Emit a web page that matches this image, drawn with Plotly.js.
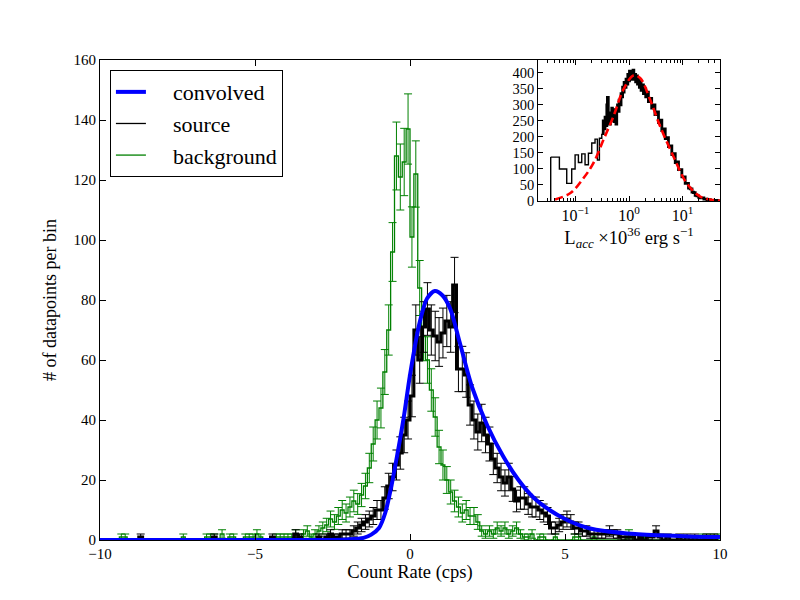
<!DOCTYPE html>
<html>
<head>
<meta charset="utf-8">
<script src="https://cdn.plot.ly/plotly-3.0.1.min.js"></script>
<style>html,body{margin:0;padding:0;background:#fff;}#chart{width:800px;height:600px;}</style>
</head>
<body>
<div id="chart"></div>
<script>
// ---------- main panel data: histograms, bin width 0.125 cps from -10 to 10 ----------
const binStart = -10;
const binWidth = 0.125;

// background (green) counts per bin, 8 bins per unit
const backgroundCounts = [
  0,0,0,0,0,1,1,0,
  0,0,0,0,0,0,0,0,
  0,0,0,0,0,1,0,0,
  0,0,0,1,1,1,0,2,
  0,1,1,0,0,1,1,1,
  2,1,0,0,0,1,1,1,
  1,1,2,1,2,3,1,2,
  3,4,5,7,6,8,10,9,
  11,13,12,15,18,24,32,40,
  44,56,70,96,128,121,126,137,
  101,122,84,68,60,50,41,31,
  25,20,16,13,11,9,10,8,
  8,6,3,2,3,2,4,3,
  4,2,3,4,2,1,1,2,
  0,1,1,0,0,1,0,0,
  0,0,1,1,0,0,0,1,
  0,0,0,0,0,0,0,0,
  2,1,0,1,1,0,0,0,
  0,0,0,0,0,0,0,0,
  0,0,0,1,0,1,0,1
];

// source (black) counts per bin
const sourceCounts = [
  0,0,0,0,0,0,0,0,
  0,0,1,0,0,0,0,0,
  0,0,0,0,0,0,0,0,
  0,0,0,0,0,1,0,0,
  0,0,0,0,0,0,0,0,
  0,0,0,0,1,0,0,0,
  0,0,2,1,0,0,0,0,
  1,0,1,2,1,1,2,2,
  2,3,4,5,6,7,8,10,
  10,14,18,21,25,29,35,40,
  48,70,60,71,77,70,68,66,
  69,73,71,85,57,57,55,45,
  40,36,39,35,32,27,24,21,
  19,21,17,13,14,14,12,11,
  11,10,9,8,4,4,5,6,
  7,6,4,4,3,3,2,2,
  2,2,2,3,2,2,1,1,
  1,1,0,1,0,1,1,3,
  1,0,1,0,0,1,0,1,
  0,1,0,0,1,0,1,0
];

// convolved model curve
const convX = [-10,-3,-2,-1.5,-1.25,-1.0,-0.8,-0.6,-0.4,-0.2,0,0.3,0.55,0.8,1.05,1.3,1.6,2.0,2.5,3.0,3.5,4.0,4.5,5.0,5.5,6.0,7.0,8.0,9.0,10.0];
const convY = [0,0,0.2,0.7,1.8,4,9,18,29,41,55,72,80.5,83,81.5,77,66,51,38,28,20,14,10,7,4.8,3.4,2.2,1.6,1.2,1.0];

const mainXTicks = [-10,-5,0,5,10];
const legendNames = ['convolved','source','background'];

// ---------- inset data: L_acc histogram (step edges) and model ----------
const insetEdgesLow = [0.0345,0.0501,0.0687,0.0851,0.0984,0.1135,0.131,0.151,0.1745,0.2015,0.232,0.257,0.280,0.310];
const insetCountsLow = [137,100,55,100,144,120,147,113,149,181,193,128,196,210];

const insetEdgesHigh = [0.310,0.33,0.345,0.357,0.37,0.385,0.395,0.41,0.431,0.45,0.465,0.476,0.49,0.512,0.53,0.55,0.57,0.59,0.61,0.635,0.653,0.68,0.71,0.732,0.76,0.79,0.81,0.85,0.88,0.91,0.95,0.99,1.02,1.06,1.10,1.14,1.19,1.23,1.28,1.33,1.38,1.44,1.5,1.56,1.61,1.68,1.76,1.86,1.95,2.05,2.15,2.3,2.48,2.65,2.86,3.05,3.3,3.55,3.81,4.1,4.4,4.75,5.08,5.45,5.86,6.3,6.77,7.3,7.82,8.4,9.02,9.7,10.4,11.2,12.0,12.9,13.9,15,16,17.2,18.5,20,21.3,25,28.5,33,37.9,45,50.5];
const insetCountsHigh = [210,250,225,262,235,300,323,255,240,275,250,290,255,285,248,270,240,285,300,280,315,300,335,325,355,340,370,355,380,365,395,375,405,385,400,380,408,385,395,372,390,365,380,355,372,345,362,335,350,325,340,310,320,290,300,270,278,245,252,220,225,195,198,170,172,145,148,120,122,98,98,75,75,55,55,40,38,28,26,18,16,11,10,6,4,2,1.5,0.5,0];

const modelL = [0.0416,0.0793,0.1406,0.216,0.333,0.512,0.787,1.21,1.61,2.48,3.81,6.76,12.0,21.3,37.8,50];
const modelN = [5,24,71,118,191,264,348,392,384,316,233,139,55,14,3,1];

const insetXTicks = [0.1,1,10];
const insetXTickText = ['10<sup>\u22121</sup>','10<sup>0</sup>','10<sup>1</sup>'];

// ---------- build ----------
const binCenters = backgroundCounts.map((_, i) => binStart + binWidth * (i + 0.5));
const poisson = arr => arr.map(v => v > 0 ? Math.sqrt(v) : NaN);

const FONT = 'Liberation Serif, Times New Roman, serif';
const GREEN = '#008000';
const PAD = '\u2002\u2002';

const minorLog = [];
[0.01,0.1,1,10].forEach(d => { for (let m = 2; m <= 9; m++) { const v = m*d; if (v >= 0.02 && v <= 50) minorLog.push(v); } });

const traces = [
  {x: binCenters, y: backgroundCounts, mode: 'lines', line: {shape: 'hvh', color: GREEN, width: 1.3},
   error_y: {type: 'data', array: poisson(backgroundCounts), visible: true, color: GREEN, thickness: 1, width: 4},
   showlegend: false, xaxis: 'x', yaxis: 'y', hoverinfo: 'skip'},
  {x: binCenters, y: sourceCounts, mode: 'lines', line: {shape: 'hvh', color: '#000', width: 3},
   error_y: {type: 'data', array: poisson(sourceCounts), visible: true, color: '#000', thickness: 1, width: 4},
   showlegend: false, xaxis: 'x', yaxis: 'y', hoverinfo: 'skip'},
  {x: convX, y: convY, mode: 'lines', line: {shape: 'spline', smoothing: 0.8, color: '#0000ff', width: 4},
   showlegend: false, xaxis: 'x', yaxis: 'y', hoverinfo: 'skip'},
  // legend entries
  {x: [null], y: [null], mode: 'lines', name: PAD + legendNames[0], line: {color: '#0000ff', width: 4}, xaxis: 'x', yaxis: 'y'},
  {x: [null], y: [null], mode: 'lines', name: PAD + legendNames[1], line: {color: '#000', width: 1.3}, xaxis: 'x', yaxis: 'y'},
  {x: [null], y: [null], mode: 'lines', name: PAD + legendNames[2], line: {color: GREEN, width: 1.3}, xaxis: 'x', yaxis: 'y'},
  // inset
  {x: insetEdgesLow, y: insetCountsLow, mode: 'lines',
   line: {shape: 'hv', color: '#000', width: 1.4}, showlegend: false, xaxis: 'x2', yaxis: 'y2', hoverinfo: 'skip'},
  {x: [insetEdgesLow[0], insetEdgesLow[0]], y: [0, insetCountsLow[0]], mode: 'lines',
   line: {color: '#000', width: 1.4}, showlegend: false, xaxis: 'x2', yaxis: 'y2', hoverinfo: 'skip'},
  {x: insetEdgesHigh, y: insetCountsHigh, mode: 'lines',
   line: {shape: 'hv', color: '#000', width: 2.8}, showlegend: false, xaxis: 'x2', yaxis: 'y2', hoverinfo: 'skip'},
  {x: modelL, y: modelN, mode: 'lines', line: {shape: 'spline', smoothing: 1, color: '#ff0000', width: 2.6, dash: '8px,4px'},
   showlegend: false, xaxis: 'x2', yaxis: 'y2', hoverinfo: 'skip'}
];

const axisCommon = {
  showline: true, linecolor: '#000', linewidth: 1, mirror: 'ticks',
  ticks: 'inside', ticklen: 6, tickwidth: 1, tickcolor: '#000',
  showgrid: false, zeroline: false,
  tickfont: {family: FONT, size: 15, color: '#000'}
};
const insetTickFont = {family: FONT, size: 14.5, color: '#000'};

const layout = {
  width: 800, height: 600,
  margin: {l: 100, r: 80, t: 60, b: 60, pad: 0},
  paper_bgcolor: '#fff', plot_bgcolor: '#fff',
  font: {family: FONT, color: '#000'},
  xaxis: Object.assign({}, axisCommon, {
    domain: [0, 1], range: [-10, 10], tickmode: 'array', tickvals: mainXTicks, anchor: 'y',
    title: {text: 'Count Rate (cps)', font: {family: FONT, size: 18.5, color: '#000'}, standoff: 4}
  }),
  yaxis: Object.assign({}, axisCommon, {
    domain: [0, 1], range: [0, 160], dtick: 20, tick0: 0, anchor: 'x',
    title: {text: '# of datapoints per bin', font: {family: FONT, size: 18, color: '#000'}, standoff: 12}
  }),
  xaxis2: Object.assign({}, axisCommon, {
    domain: [0.7065, 1], type: 'log', range: [Math.log10(0.02), Math.log10(50)], anchor: 'y2',
    tickmode: 'array', tickvals: insetXTicks, ticktext: insetXTickText, ticklen: 5,
    tickfont: {family: FONT, size: 16, color: '#000'},
    minor: {ticks: 'inside', ticklen: 3, tickcolor: '#000', tickmode: 'array', tickvals: minorLog, showgrid: false},
    title: {text: 'L<sub><i>acc</i></sub> \u00d710<sup>36</sup> erg s<sup>\u22121</sup>', font: {family: FONT, size: 18.5, color: '#000'}, standoff: 2}
  }),
  yaxis2: Object.assign({}, axisCommon, {
    domain: [0.70625, 1], range: [0, 440], dtick: 50, tick0: 0, anchor: 'x2', ticklen: 5, tickfont: insetTickFont
  }),
  showlegend: true,
  legend: {
    x: 0.016, y: 0.979, xanchor: 'left', yanchor: 'top',
    bgcolor: '#fff', bordercolor: '#000', borderwidth: 1,
    font: {family: FONT, size: 22, color: '#000'},
    itemwidth: 30, tracegroupgap: 0
  }
};

Plotly.newPlot('chart', traces, layout, {displayModeBar: false, staticPlot: true});
</script>
</body>
</html>
